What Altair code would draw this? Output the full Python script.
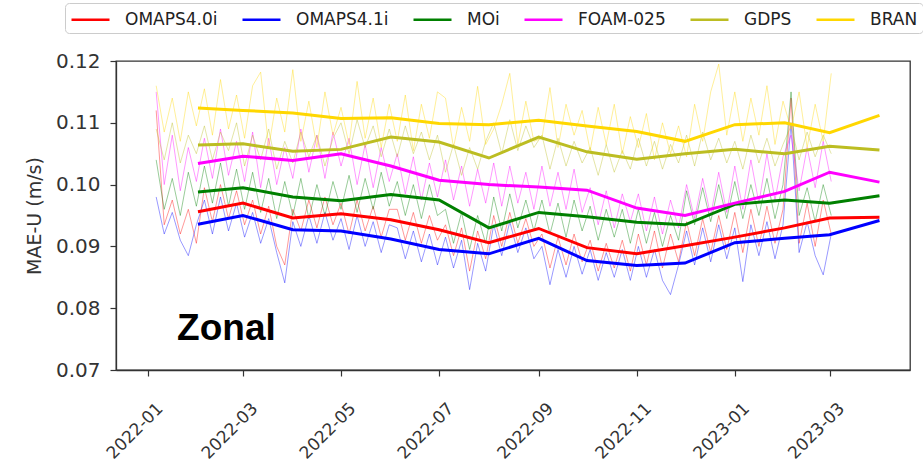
import altair as alt
import pandas as pd

# ---------------- data ----------------
series_names = ["OMAPS4.0i", "OMAPS4.1i", "MOi", "FOAM-025", "GDPS", "BRAN"]
series_colors = ["#ff0000", "#0000ff", "#008000", "#ff00ff", "#bcbd22", "#ffd700"]

# monthly means (thick lines), plotted at the start of each month
monthly_dates = ["2022-02-01", "2022-03-01", "2022-04-01", "2022-05-01", "2022-06-01",
                 "2022-07-01", "2022-08-01", "2022-09-01", "2022-10-01", "2022-11-01",
                 "2022-12-01", "2023-01-01", "2023-02-01", "2023-03-01", "2023-04-01"]
monthly_omaps40 = [0.0956, 0.0970, 0.0946, 0.0953, 0.0943, 0.0927, 0.0906, 0.0929,
                   0.0898, 0.0888, 0.0901, 0.0915, 0.0930, 0.0946, 0.0947]
monthly_omaps41 = [0.0936, 0.0950, 0.0927, 0.0925, 0.0912, 0.0895, 0.0888, 0.0913,
                   0.0877, 0.0869, 0.0873, 0.0906, 0.0913, 0.0919, 0.0942]
monthly_moi = [0.0988, 0.0995, 0.0980, 0.0974, 0.0984, 0.0975, 0.0930, 0.0955,
               0.0948, 0.0939, 0.0935, 0.0968, 0.0975, 0.0970, 0.0982]
monthly_foam = [0.1034, 0.1046, 0.1039, 0.1050, 0.1030, 0.1007, 0.1000, 0.0996,
                0.0991, 0.0962, 0.0950, 0.0970, 0.0989, 0.1020, 0.1004]
monthly_gdps = [0.1064, 0.1066, 0.1054, 0.1057, 0.1077, 0.1069, 0.1043, 0.1077,
                0.1053, 0.1041, 0.1050, 0.1057, 0.1050, 0.1062, 0.1056]
monthly_bran = [0.1124, 0.1120, 0.1116, 0.1107, 0.1108, 0.1099, 0.1097, 0.1104,
                0.1095, 0.1086, 0.1070, 0.1097, 0.1100, 0.1084, 0.1112]

# daily values sampled every 5 days (thin lines), from 2022-01-06
daily_start = "2022-01-06"
daily_step_days = 5
daily_omaps40 = [
    0.1120, 0.0935, 0.0975, 0.0920, 0.0960, 0.0905,
    0.0995, 0.0940, 0.1000, 0.0945, 0.0990,
    0.0935, 0.0975, 0.0920, 0.0965, 0.0900, 0.0870,
    0.0960, 0.0925, 0.0975, 0.0930, 0.0980, 0.0935,
    0.0970, 0.0920, 0.0975, 0.0925, 0.0965, 0.0915, 0.0960,
    0.0960, 0.0910, 0.0955, 0.0905, 0.0950, 0.0910,
    0.0935, 0.0885, 0.0930, 0.0860, 0.0925, 0.0880,
    0.0950, 0.0900, 0.0955, 0.0905, 0.0945, 0.0900,
    0.0920, 0.0865, 0.0915, 0.0870, 0.0920, 0.0875,
    0.0910, 0.0860, 0.0905, 0.0865, 0.0910, 0.0860,
    0.0920, 0.0870, 0.0925, 0.0865, 0.0920, 0.0875,
    0.0940, 0.0885, 0.0945, 0.0890, 0.0950, 0.0895,
    0.0955, 0.0890, 0.0960, 0.0900, 0.0965, 0.0905, 0.0960,
    0.1140, 0.0905, 0.0970, 0.0900, 0.0975, 0.0920]
daily_omaps41 = [
    0.0980, 0.0920, 0.0955, 0.0910, 0.0885, 0.0935,
    0.0975, 0.0920, 0.0980, 0.0925, 0.0970,
    0.0915, 0.0955, 0.0905, 0.0945, 0.0890, 0.0841,
    0.0940, 0.0900, 0.0950, 0.0905, 0.0955, 0.0910,
    0.0945, 0.0895, 0.0950, 0.0900, 0.0940, 0.0890, 0.0935,
    0.0930, 0.0880, 0.0925, 0.0875, 0.0920, 0.0870,
    0.0915, 0.0865, 0.0910, 0.0830, 0.0905, 0.0860,
    0.0935, 0.0885, 0.0940, 0.0890, 0.0930, 0.0880,
    0.0900, 0.0838, 0.0895, 0.0850, 0.0900, 0.0855,
    0.0895, 0.0845, 0.0890, 0.0850, 0.0895, 0.0845,
    0.0900, 0.0850, 0.0895, 0.0845, 0.0822, 0.0870,
    0.0925, 0.0870, 0.0930, 0.0875, 0.0935, 0.0880,
    0.0930, 0.0843, 0.0935, 0.0885, 0.0940, 0.0880, 0.0935,
    0.1100, 0.0890, 0.0940, 0.0885, 0.0854, 0.0920]
daily_moi = [
    0.1040, 0.0960, 0.1010, 0.0950, 0.1020, 0.0965,
    0.1030, 0.0970, 0.1035, 0.0965, 0.1025,
    0.0960, 0.1020, 0.0955, 0.1010, 0.0945, 0.1005,
    0.0950, 0.1010, 0.0945, 0.1000, 0.0950, 0.1005,
    0.0960, 0.1015, 0.0955, 0.1010, 0.0960, 0.1020, 0.0965,
    0.1005, 0.0950, 0.1000, 0.0945, 0.1000, 0.0950,
    0.0960, 0.0905, 0.0955, 0.0895, 0.0950, 0.0905,
    0.0980, 0.0925, 0.0985, 0.0930, 0.0975, 0.0925,
    0.0975, 0.0920, 0.0970, 0.0915, 0.0975, 0.0925,
    0.0965, 0.0910, 0.0960, 0.0915, 0.0960, 0.0905,
    0.0960, 0.0905, 0.0955, 0.0900, 0.0950, 0.0910,
    0.0990, 0.0935, 0.0995, 0.0940, 0.1000, 0.0945,
    0.1005, 0.0945, 0.1000, 0.0950, 0.1010, 0.0945, 0.1000,
    0.1150, 0.0950, 0.0995, 0.0940, 0.1000, 0.0950]
daily_foam = [
    0.1150, 0.1000, 0.1080, 0.0990, 0.1060, 0.1005,
    0.1075, 0.1010, 0.1090, 0.1015, 0.1070,
    0.1005, 0.1085, 0.0995, 0.1075, 0.1000, 0.1060,
    0.1010, 0.1090, 0.1020, 0.1080, 0.1010, 0.1085,
    0.1030, 0.1075, 0.1000, 0.1065, 0.0995, 0.1060, 0.1005,
    0.1050, 0.0985, 0.1045, 0.0975, 0.1035, 0.0980,
    0.1040, 0.0975, 0.1030, 0.0965, 0.1025, 0.0970,
    0.1035, 0.0965, 0.1030, 0.0970, 0.1020, 0.0960,
    0.1030, 0.0965, 0.1020, 0.0960, 0.1025, 0.0955,
    0.0995, 0.0935, 0.0990, 0.0930, 0.0985, 0.0940,
    0.0985, 0.0925, 0.0980, 0.0920, 0.0975, 0.0930,
    0.1000, 0.0945, 0.1010, 0.0950, 0.1020, 0.0955,
    0.1030, 0.0960, 0.1040, 0.0970, 0.1050, 0.0975, 0.1045,
    0.1080, 0.0990, 0.1060, 0.0995, 0.1070, 0.1005]
daily_gdps = [
    0.1090, 0.1040, 0.1100, 0.1035, 0.1080, 0.1050,
    0.1095, 0.1040, 0.1085, 0.1055, 0.1100,
    0.1030, 0.1080, 0.1040, 0.1090, 0.1025, 0.1070,
    0.1035, 0.1085, 0.1045, 0.1080, 0.1030, 0.1075,
    0.1100, 0.1050, 0.1105, 0.1060, 0.1095, 0.1045, 0.1090,
    0.1045, 0.1095, 0.1050, 0.1085, 0.1040, 0.1080,
    0.1020, 0.1065, 0.1015, 0.1060, 0.1025, 0.1070,
    0.1100, 0.1050, 0.1105, 0.1055, 0.1095, 0.1060,
    0.1080, 0.1025, 0.1075, 0.1030, 0.1070, 0.1035,
    0.1060, 0.1015, 0.1065, 0.1020, 0.1055, 0.1025,
    0.1075, 0.1030, 0.1070, 0.1025, 0.1065, 0.1035,
    0.1080, 0.1030, 0.1085, 0.1040, 0.1075, 0.1035,
    0.1070, 0.1025, 0.1080, 0.1035, 0.1075, 0.1030, 0.1065,
    0.1095, 0.1040, 0.1085, 0.1045, 0.1080, 0.1050]
daily_bran = [
    0.1160, 0.1085, 0.1140, 0.1070, 0.1150, 0.1095,
    0.1155, 0.1080, 0.1170, 0.1090, 0.1145,
    0.1075, 0.1160, 0.1182, 0.1060, 0.1140, 0.1085,
    0.1186, 0.1070, 0.1135, 0.1060, 0.1150, 0.1080,
    0.1125, 0.1065, 0.1167, 0.1075, 0.1140, 0.1060, 0.1130,
    0.1070, 0.1145, 0.1055, 0.1130, 0.1075, 0.1150,
    0.1140, 0.1060, 0.1125, 0.1070, 0.1159, 0.1065,
    0.1090, 0.1130, 0.1180, 0.1065, 0.1135, 0.1070,
    0.1075, 0.1157, 0.1060, 0.1130, 0.1080, 0.1120,
    0.1055, 0.1125, 0.1065, 0.1130, 0.1050, 0.1110,
    0.1060, 0.1115, 0.1040, 0.1100, 0.1050, 0.1095,
    0.1045, 0.1130, 0.1070, 0.1150, 0.1195, 0.1080,
    0.1150, 0.1070, 0.1140, 0.1080, 0.1160, 0.1065, 0.1135,
    0.1090, 0.1150, 0.1060, 0.1130, 0.1070, 0.1180]

y_ticks = [0.07, 0.08, 0.09, 0.10, 0.11, 0.12]
x_tick_labels = ["2022-01", "2022-03", "2022-05", "2022-07", "2022-09",
                 "2022-11", "2023-01", "2023-03"]
annotation_text = ["Zonal"]
annotation_date = ["2022-01-19"]
annotation_value = [0.0749]

# ---------------- tables ----------------
monthly_all = [monthly_omaps40, monthly_omaps41, monthly_moi, monthly_foam, monthly_gdps, monthly_bran]
daily_all = [daily_omaps40, daily_omaps41, daily_moi, daily_foam, daily_gdps, daily_bran]

rows_m = []
for name, vals in zip(series_names, monthly_all):
    for d, v in zip(monthly_dates, vals):
        rows_m.append({"date": d, "value": v, "model": name})
df_m = pd.DataFrame(rows_m)

rows_d = []
for name, vals in zip(series_names, daily_all):
    dates = pd.date_range(daily_start, periods=len(vals), freq=f"{daily_step_days}D")
    for d, v in zip(dates, vals):
        rows_d.append({"date": d.strftime("%Y-%m-%d"), "value": v, "model": name})
df_d = pd.DataFrame(rows_d)

df_a = pd.DataFrame({"date": annotation_date, "value": annotation_value, "text": annotation_text})

# ---------------- chart ----------------
def dt(s):
    y, m, d = (int(p) for p in s.split("-"))
    return alt.DateTime(year=y, month=m, date=d, utc=True)

x_scale = alt.Scale(type="utc", domain=[dt("2021-12-12"), dt("2023-04-20")], nice=False)
y_scale = alt.Scale(domain=[0.07, 0.12], nice=False, zero=False)
color_scale = alt.Scale(domain=series_names, range=series_colors)

x_axis = alt.Axis(
    values=[dt(t + "-01") for t in x_tick_labels],
    labelExpr="utcFormat(datum.value, '%Y-%m')",
    title=None, labelAngle=-45, labelAlign="right", labelBaseline="top",
    labelPadding=24, labelOffset=6, labelFontSize=17, tickSize=6, grid=False,
    labelOverlap=False,
)
y_axis = alt.Axis(
    values=y_ticks, format=".2f", title="MAE-U (m/s)", titleFontSize=19,
    titleFontWeight="normal", titlePadding=11, labelFontSize=20, labelPadding=10,
    tickSize=6, grid=False,
)

legend = alt.Legend(
    title=None, orient="none", legendX=-51, legendY=-58, direction="horizontal",
    columns=6, symbolType="M-1.9,0H1.9", symbolSize=400, symbolStrokeWidth=2.5,
    symbolOffset=9, symbolOpacity=1,
    labelFontSize=17, labelOffset=23, columnPadding=19, padding=5,
    strokeColor="#cccccc", fillColor="white", cornerRadius=4, labelLimit=0,
)

thin = alt.Chart(df_d).mark_line(strokeWidth=1, opacity=0.4).encode(
    x=alt.X("date:T", scale=x_scale, axis=x_axis),
    y=alt.Y("value:Q", scale=y_scale, axis=y_axis),
    color=alt.Color("model:N", scale=color_scale, legend=None),
    detail="model:N",
)

thick = alt.Chart(df_m).mark_line(strokeWidth=3).encode(
    x=alt.X("date:T", scale=x_scale, axis=x_axis),
    y=alt.Y("value:Q", scale=y_scale, axis=y_axis),
    color=alt.Color("model:N", scale=color_scale, legend=legend, sort=series_names),
)

label = alt.Chart(df_a).mark_text(
    font="Liberation Sans", fontWeight="bold", fontSize=37, align="left",
    baseline="alphabetic", color="black",
).encode(
    x=alt.X("date:T", scale=x_scale, axis=x_axis),
    y=alt.Y("value:Q", scale=y_scale, axis=y_axis),
    text="text:N",
)

chart = alt.layer(thin, thick, label).resolve_scale(
    color="independent"
).properties(
    width=794, height=309,
    autosize=alt.AutoSizeParams(type="none"),
    padding={"left": 116, "top": 61, "right": 13, "bottom": 93},
    background="white",
).configure(
    font="DejaVu Sans",
).configure_axis(
    labelFont="DejaVu Sans", titleFont="DejaVu Sans", labelColor="#333333",
    titleColor="#333333", domainColor="#333333", tickColor="#333333",
    domainWidth=1.3, tickWidth=1.2,
).configure_legend(
    labelFont="DejaVu Sans", labelColor="#222222",
).configure_view(
    stroke="#333333", strokeWidth=1.3,
)

chart.save("out.html", embed_options={"renderer": "svg", "actions": False})
